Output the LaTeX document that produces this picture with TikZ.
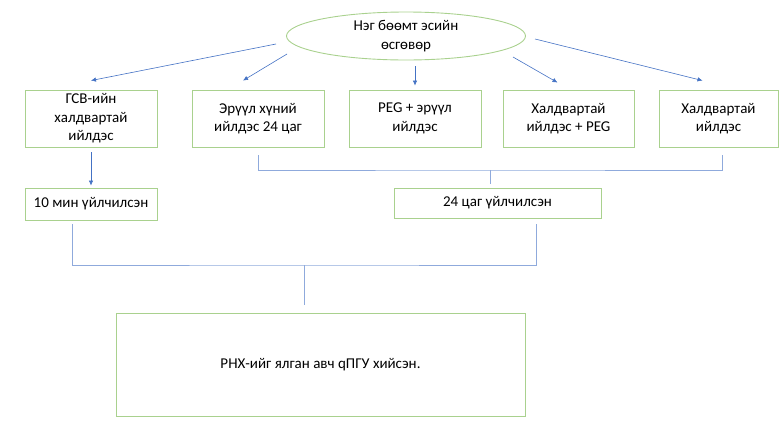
\documentclass[tikz,border=0pt]{standalone}
\usepackage{fontspec}
\setmainfont{Carlito}
\usepackage{tikz}
\usetikzlibrary{arrows.meta,shapes.geometric}
\definecolor{boxgreen}{HTML}{A9D18E}
\definecolor{linkblue}{HTML}{4472C4}
\definecolor{bracketblue}{HTML}{8FAADC}
\tikzset{
    box/.style={rectangle, draw=boxgreen, line width=0.9pt, align=center,
    	font=\fontsize{15}{18.5}\selectfont, inner sep=0pt}
}
\tikzset{
    arr/.style={draw=linkblue, line width=0.6pt,
    	-{Latex[length=5pt,width=4.5pt]}}
}
\tikzset{
	bracket/.style={draw=bracketblue, line width=1pt}
}

\begin{document}
\begin{tikzpicture}[x=1pt,y=-1pt]
	\useasboundingbox (0,0) rectangle (780,445);

	\node (0) [box, ellipse, minimum width=239pt, minimum height=48pt]
		at (406,36) {Нэг бөөмт эсийн\\өсгөвөр};
	\node (1) [box, minimum width=132pt, minimum height=57pt] at (91,118.5)
		{ГСВ-ийн\\халдвартай\\ийлдэс};
	\node (2) [box, minimum width=132pt, minimum height=57pt] at (258,118.5)
		{Эрүүл хүний\\ийлдэс 24 цаг};
	\node (3) [box, minimum width=132pt, minimum height=57pt] at (415,118.5)
		{PEG + эрүүл\\ийлдэс};
	\node (4) [box, minimum width=131pt, minimum height=57pt] at (568.5,118.5)
		{Халдвартай\\ийлдэс + PEG};
	\node (5) [box, minimum width=119pt, minimum height=57pt] at (718.5,118.5)
		{Халдвартай\\ийлдэс};
	\node (6) [box, minimum width=132pt, minimum height=32pt] at (91,204)
		{10 мин үйлчилсэн};
	\node (7) [box, minimum width=207pt, minimum height=30pt] at (497.5,203)
		{24 цаг үйлчилсэн};
	\node (8) [box, minimum width=409pt, minimum height=103pt] at (320.5,364.5)
		{РНХ-ийг ялган авч qПГУ хийсэн.};

	% arrows out of the ellipse
	\coordinate (s1) at (276,44);
	\coordinate (s2) at (287,54);
	\coordinate (s3) at (415,66);
	\coordinate (s4) at (513,57);
	\coordinate (s5) at (535,39);
	\draw[arr] (s1) -- ([yshift=9pt]1.north);
	\draw[arr] (s2) -- ([xshift=-15pt,yshift=9pt]2.north);
	\draw[arr] (s3) -- ([yshift=4pt]3.north);
	\draw[arr] (s4) -- ([xshift=-11pt,yshift=7pt]4.north);
	\draw[arr] (s5) -- ([xshift=-16pt,yshift=9pt]5.north);
	\draw[arr] ([yshift=-5pt]1.south) -- ([yshift=2pt]6.north);

	% brackets
	\coordinate (j1) at (490,170);
	\draw[bracket] ([yshift=-8pt]2.south) |- (j1)
		-| ([xshift=3.5pt,yshift=-8pt]5.south);
	\draw[bracket, shorten >=4pt] (j1) -- (j1 |- 7.north);
	\coordinate (j2) at (304,265);
	\draw[bracket] ([xshift=-19pt,yshift=-4pt]6.south) |- (j2)
		-| ([xshift=38.5pt,yshift=-6pt]7.south);
	\draw[bracket, shorten >=8pt] (j2) -- (j2 |- 8.north);
\end{tikzpicture}
\end{document}
